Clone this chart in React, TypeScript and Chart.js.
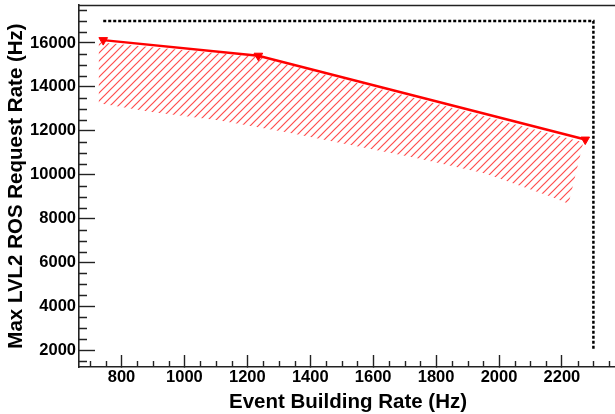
import React, { useEffect, useRef } from 'react';
import { Chart, registerables } from 'chart.js';

Chart.register(...registerables);

// Measured series: max LVL2 ROS request rate vs event building rate
const rateX = [742, 1235, 2274];
const rateY = [16130, 15420, 11600];

// Limit (dashed black)
const limitX = [742, 2300, 2300];
const limitY = [17000, 17000, 2000];

// Hatched uncertainty band (closed outline: upper edge left->right, lower edge right->left)
const bandX = [728, 1235, 2268, 2221, 2168, 2062, 1956, 1744, 1532, 1320, 1107, 895, 728];
const bandY = [16030, 15360, 11480, 8680, 8980, 9520, 10050, 10740, 11340, 11950, 12480, 12860, 13250];

// Axis ranges and ticks
const xRange = [665, 2375];
const yRange = [1240, 17730];
const xTickValues = [800, 1000, 1200, 1400, 1600, 1800, 2000, 2200];
const yTickValues = [2000, 4000, 6000, 8000, 10000, 12000, 14000, 16000];
const xMinorStep = 50;
const yMinorStep = 500;

const xTitle = 'Event Building Rate (Hz)';
const yTitle = 'Max LVL2 ROS Request Rate (Hz)';

const FONT = "'Liberation Sans', Arial, Helvetica, sans-serif";
const AXIS_COLOR = '#222';

function makeHatch(): CanvasPattern | string {
  const s = 8;
  const c = document.createElement('canvas');
  c.width = s;
  c.height = s;
  const g = c.getContext('2d');
  if (!g) return 'rgba(255,0,0,0.35)';
  g.strokeStyle = 'rgba(255,0,0,0.7)';
  g.lineWidth = 1.2;
  g.beginPath();
  g.moveTo(-1, s + 1);
  g.lineTo(s + 1, -1);
  g.moveTo(-2, 2);
  g.lineTo(2, -2);
  g.moveTo(s - 2, s + 2);
  g.lineTo(s + 2, s - 2);
  g.stroke();
  return g.createPattern(c, 'repeat') || 'rgba(255,0,0,0.35)';
}

const zeroPadding = (s: any) => {
  s.paddingTop = 0;
  s.paddingBottom = 0;
  s.paddingLeft = 0;
  s.paddingRight = 0;
};

const frameAndMinorTicks = {
  id: 'frameAndMinorTicks',
  afterDraw(chart: any) {
    const { ctx, chartArea: a, scales } = chart;
    const x = scales.x;
    const y = scales.y;
    ctx.save();
    ctx.strokeStyle = AXIS_COLOR;
    // top frame line
    ctx.lineWidth = 1.6;
    ctx.beginPath();
    ctx.moveTo(a.left, Math.round(a.top) + 0.5);
    ctx.lineTo(a.right + 10, Math.round(a.top) + 0.5);
    ctx.stroke();
    // minor ticks
    ctx.lineWidth = 1.4;
    ctx.beginPath();
    for (let v = Math.ceil(x.min / xMinorStep) * xMinorStep; v <= x.max; v += xMinorStep) {
      if (xTickValues.includes(v)) continue;
      const px = Math.round(x.getPixelForValue(v)) + 0.5;
      ctx.moveTo(px, a.bottom);
      ctx.lineTo(px, a.bottom - 6);
    }
    for (let v = Math.ceil(y.min / yMinorStep) * yMinorStep; v <= y.max; v += yMinorStep) {
      if (yTickValues.includes(v)) continue;
      const py = Math.round(y.getPixelForValue(v)) + 0.5;
      ctx.moveTo(a.left, py);
      ctx.lineTo(a.left + 8, py);
    }
    ctx.stroke();
    ctx.restore();
  },
};

export default function App() {
  const ref = useRef<HTMLCanvasElement | null>(null);

  useEffect(() => {
    const canvas = ref.current;
    if (!canvas) return;
    const hatch = makeHatch();
    const chart = new Chart(canvas, {
      type: 'scatter',
      data: {
        datasets: [
          {
            label: 'Max rate',
            data: rateX.map((v, i) => ({ x: v, y: rateY[i] })),
            showLine: true,
            borderColor: '#ff0000',
            borderWidth: 2.5,
            pointStyle: 'triangle',
            pointRotation: 180,
            pointRadius: 5,
            pointBackgroundColor: '#ff0000',
            pointBorderColor: '#ff0000',
            pointBorderWidth: 1,
            fill: false,
          } as any,
          {
            label: 'Band',
            data: bandX.map((v, i) => ({ x: v, y: bandY[i] })),
            showLine: true,
            borderColor: 'transparent',
            borderWidth: 0,
            pointRadius: 0,
            backgroundColor: hatch,
            fill: 'shape',
          } as any,
          {
            label: 'Limit',
            data: limitX.map((v, i) => ({ x: v, y: limitY[i] })),
            showLine: true,
            borderColor: '#000',
            borderWidth: 2.5,
            borderDash: [3, 2],
            pointRadius: 0,
            fill: false,
          } as any,
        ],
      },
      options: {
        animation: false,
        responsive: false,
        events: [],
        layout: { autoPadding: false, padding: { top: 5, right: 13, left: 0, bottom: 0 } } as any,
        plugins: {
          legend: { display: false },
          tooltip: { enabled: false },
          title: { display: false },
        },
        scales: {
          x: {
            type: 'linear',
            min: xRange[0],
            max: xRange[1],
            afterBuildTicks: (s: any) => {
              s.ticks = xTickValues.map((v) => ({ value: v }));
            },
            afterFit: (s: any) => {
              s.height = 47;
              zeroPadding(s);
            },
            border: { display: true, color: AXIS_COLOR, width: 1.6 },
            grid: {
              display: true,
              drawOnChartArea: false,
              drawTicks: true,
              tickLength: -12,
              tickColor: AXIS_COLOR,
              tickWidth: 1.4,
            },
            ticks: {
              autoSkip: false,
              maxRotation: 0,
              padding: 13,
              color: '#000',
              font: { family: FONT, size: 16.5, weight: 'bold' },
              callback: (v: any) => String(v),
            },
            title: {
              display: true,
              text: xTitle,
              color: '#000',
              font: { family: FONT, size: 20.5, weight: 'bold', lineHeight: 1.1 },
              padding: { top: 0, bottom: 0 },
            },
          } as any,
          y: {
            type: 'linear',
            min: yRange[0],
            max: yRange[1],
            afterBuildTicks: (s: any) => {
              s.ticks = yTickValues.map((v) => ({ value: v }));
            },
            afterFit: (s: any) => {
              s.width = 79;
              zeroPadding(s);
            },
            border: { display: true, color: AXIS_COLOR, width: 1.6 },
            grid: {
              display: true,
              drawOnChartArea: false,
              drawTicks: true,
              tickLength: -16,
              tickColor: AXIS_COLOR,
              tickWidth: 1.4,
            },
            ticks: {
              autoSkip: false,
              padding: 19,
              color: '#000',
              font: { family: FONT, size: 16.5, weight: 'bold' },
              callback: (v: any) => String(v),
            },
            title: {
              display: true,
              text: yTitle,
              color: '#000',
              font: { family: FONT, size: 20.5, weight: 'bold', lineHeight: 1.1 },
              padding: { top: 5, bottom: 0 },
            },
          } as any,
        },
      },
      plugins: [frameAndMinorTicks],
    });
    return () => chart.destroy();
  }, []);

  return (
    <div
      style={{
        position: 'fixed',
        left: 0,
        top: 0,
        width: 615,
        height: 414,
        overflow: 'hidden',
        background: '#fff',
      }}
    >
      <canvas ref={ref} width={630} height={414} style={{ width: 630, height: 414, display: 'block' }} />
    </div>
  );
}
